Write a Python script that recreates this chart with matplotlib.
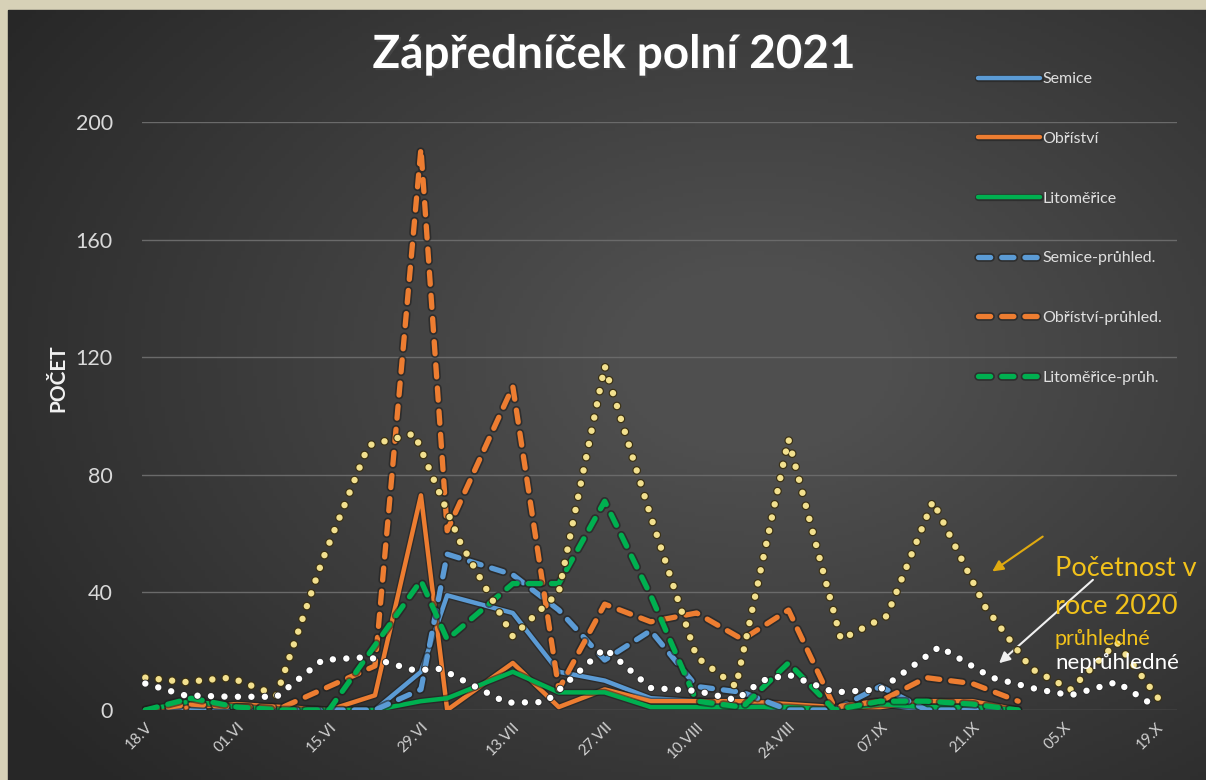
import numpy as np
import pandas as pd
import matplotlib
matplotlib.use('Agg')
import matplotlib.pyplot as plt
import matplotlib.patheffects as pe
from matplotlib.patches import Rectangle

# --- data -------------------------------------------------------------
# 2021 sampling dates (dd.mm)
dates_2021 = ['18.05', '25.05', '01.06', '08.06', '15.06', '22.06', '29.06', '03.07',
              '13.07', '20.07', '27.07', '03.08', '10.08', '17.08', '24.08', '31.08',
              '07.09', '14.09', '21.09', '28.09']
semice = [0, 2, 1, 0, 0, 0, 13, 39, 33, 13, 10, 4, 3, 2, 0, 0, 2, 0, 0, 0]
obristvi = [0, 1, 2, 1, 0, 5, 73, 0, 16, 1, 7, 3, 3, 3, 2, 1, 1, 3, 3, 0]
litomerice = [0, 3, 1, 0, 0, 0, 3, 4, 13, 6, 6, 1, 1, 1, 1, 0, 2, 1, 1, 0]
semice_pr = [0, 0, 0, 0, 0, 0, 7, 53, 46, 34, 17, 27, 8, 6, 0, 0, 8, 0, 0, 0]
obristvi_pr = [0, 2, 1, 1, 8, 15, 191, 61, 110, 7, 36, 30, 33, 24, 34, 1, 3, 11, 9, 3]
litomerice_pr = [0, 4, 1, 0, 0, 22, 44, 24, 43, 43, 71, 39, 3, 1, 16, 0, 3, 3, 2, 0]

# 2020 counts (transparent / opaque), plotted on the same calendar
dates_2020_pr = ['18.05', '24.05', '31.05', '07.06', '14.06', '21.06', '28.06', '05.07',
                 '13.07', '20.07', '27.07', '03.08', '10.08', '16.08', '24.08', '01.09',
                 '08.09', '15.09', '23.09', '30.09', '06.10', '13.10', '20.10']
pruhledne_2020 = [11, 9.5, 11, 5, 51, 90, 94, 57, 25, 40, 117, 66, 18, 8, 92, 24,
                  32, 71, 35, 14, 7, 23, 2]
dates_2020_nepr = ['18.05', '24.05', '31.05', '07.06', '14.06', '21.06', '28.06', '02.07',
                   '12.07', '18.07', '27.07', '03.08', '10.08', '16.08', '20.08', '24.08',
                   '31.08', '07.09', '16.09', '24.09', '01.10', '06.10', '13.10', '19.10']
nepruhledne_2020 = [9, 5, 4.5, 4.5, 17, 18, 13.5, 14, 2.5, 2.7, 21, 7.5, 6.5, 3.4, 10,
                    12, 6, 7, 21.5, 11, 7, 5, 9.5, 1]

tick_labels = ['18.V', '01.VI', '15.VI', '29.VI', '13.VII', '27.VII', '10.VIII',
               '24.VIII', '07.IX', '21.IX', '05.X', '19.X']


def to_dates(lst):
    return pd.to_datetime([d + '.2021' for d in lst], format='%d.%m.%Y')


W, H = 1206, 780
fig = plt.figure(figsize=(W / 100, H / 100), dpi=100, facecolor='#d7d1b7')
fig.add_artist(Rectangle((8 / W, 0), 1, 770 / H, transform=fig.transFigure,
                         color='#2c2c2c', zorder=-5))

# dark slide background with soft radial light
bg = fig.add_axes([8 / W, -0.01, 1.0, 770 / H + 0.01])
gx, gy = np.meshgrid(np.linspace(0, 1, 300), np.linspace(0, 1, 200))
r = np.sqrt(((gx - 0.62) / 0.75) ** 2 + ((gy - 0.45) / 0.8) ** 2)
shade = np.clip(1 - r, 0, 1)
bg.imshow(shade, cmap=matplotlib.colors.LinearSegmentedColormap.from_list(
    'bg', ['#272727', '#4f4f4f']), aspect='auto', extent=(0, 1, 0, 1), vmin=0, vmax=0.85)
bg.set_axis_off()

ax = fig.add_axes([142 / W, 1 - 710 / H, (1177 - 142) / W, (710 - 122) / H])
ax.set_facecolor('none')

x21 = to_dates(dates_2021)
blue, orange, green = '#5b9bd5', '#ed7d31', '#00b050'
shadow = [pe.Stroke(linewidth=5.2, foreground='#1e1e1e', alpha=0.55), pe.Normal()]
shadow_d = [pe.Stroke(linewidth=6.2, foreground='#1e1e1e', alpha=0.6), pe.Normal()]

ax.plot(x21, semice, color=blue, lw=3.2, label='Semice', path_effects=shadow,
        solid_capstyle='round', zorder=3)
ax.plot(x21, obristvi, color=orange, lw=3.2, label='Obříství', path_effects=shadow,
        solid_capstyle='round', zorder=3)
ax.plot(x21, litomerice, color=green, lw=3.2, label='Litoměřice', path_effects=shadow,
        solid_capstyle='round', zorder=3)

dash = (0, (2.3, 2.1))
ax.plot(x21, semice_pr, color=blue, lw=3.8, ls=dash, dash_capstyle='round',
        label='Semice-průhled.', path_effects=shadow_d, zorder=4)
ax.plot(x21, obristvi_pr, color=orange, lw=3.8, ls=dash, dash_capstyle='round',
        label='Obříství-průhled.', path_effects=shadow_d, zorder=4)
ax.plot(x21, litomerice_pr, color=green, lw=3.8, ls=dash, dash_capstyle='round',
        label='Litoměřice-průh.', path_effects=shadow_d, zorder=4)

dot = (0, (0.01, 2.1))
ax.plot(to_dates(dates_2020_pr), pruhledne_2020, color='#f2e08e', lw=4.6, ls=dot,
        dash_capstyle='round', zorder=5,
        path_effects=[pe.Stroke(linewidth=6.3, foreground='#3b3114'), pe.Normal()])
ax.plot(to_dates(dates_2020_nepr), nepruhledne_2020, color='#ffffff', lw=4.6, ls=dot,
        dash_capstyle='round', zorder=5,
        path_effects=[pe.Stroke(linewidth=5.8, foreground='#2a2a2a'), pe.Normal()])

start = pd.Timestamp('2021-05-18')
ticks = pd.date_range(start, periods=len(tick_labels), freq='14D')
ax.set_xlim(start - pd.Timedelta(days=0.5), start + pd.Timedelta(days=157.2))
ax.set_ylim(0, 200)
ax.set_yticks([0, 40, 80, 120, 160, 200])
ax.set_xticks(ticks)
ax.set_xticklabels(tick_labels, rotation=45, ha='right', rotation_mode='anchor',
                   fontsize=11, color='#d0d0d0', family='Lato')
ax.tick_params(axis='x', length=0, pad=7)
ax.tick_params(axis='y', length=0, pad=21, labelsize=15.5, labelcolor='#d9d9d9')
for t in ax.get_yticklabels():
    t.set_family('Lato')
ax.grid(axis='y', color='#6a6a6a', lw=1)
ax.set_axisbelow(True)
for s in ax.spines.values():
    s.set_visible(False)

fig.text(58 / W, 1 - 378 / H, 'POČET', rotation=90, ha='center', va='center',
         color='#f2f2f2', fontsize=15, fontweight='bold', family='Lato')
fig.text(614 / W, 1 - 55 / H, 'Zápředníček polní 2021', ha='center', va='center',
         color='#ffffff', fontsize=33, fontweight='bold', family='Lato',
         path_effects=[pe.withSimplePatchShadow(offset=(1.5, -1.5), alpha=0.6)])

leg = ax.legend(loc='upper left', bbox_to_anchor=(970 / W, 1 - 64 / H),
                bbox_transform=fig.transFigure, frameon=False,
                labelspacing=2.85, handlelength=3.9, handletextpad=0.15, borderpad=0,
                prop={'family': 'Lato', 'size': 11.5})
for t in leg.get_texts():
    t.set_color('#e0e0e0')

gold = '#f2c21b'
fig.text(1055 / W, 1 - 568 / H, 'Početnost v', color=gold, fontsize=19.5,
         va='center', family='Lato')
fig.text(1055 / W, 1 - 606 / H, 'roce 2020', color=gold, fontsize=19.5,
         va='center', family='Lato')
fig.text(1055 / W, 1 - 639 / H, 'průhledné', color=gold, fontsize=15.5,
         va='center', family='Lato')
fig.text(1055 / W, 1 - 663 / H, 'neprůhledné', color='#ffffff', fontsize=16,
         va='center', family='Lato')
ax.annotate('', xy=(990, H - 573), xytext=(1045, H - 535), xycoords='figure pixels',
            textcoords='figure pixels',
            arrowprops=dict(arrowstyle='-|>', color='#e0aa10', lw=1.5, mutation_scale=16))
ax.annotate('', xy=(997, H - 665), xytext=(1095, H - 578), xycoords='figure pixels',
            textcoords='figure pixels',
            arrowprops=dict(arrowstyle='-|>', color='#f0f0f0', lw=1.5, mutation_scale=16))

fig.savefig('out.png', dpi=100, facecolor=fig.get_facecolor())
